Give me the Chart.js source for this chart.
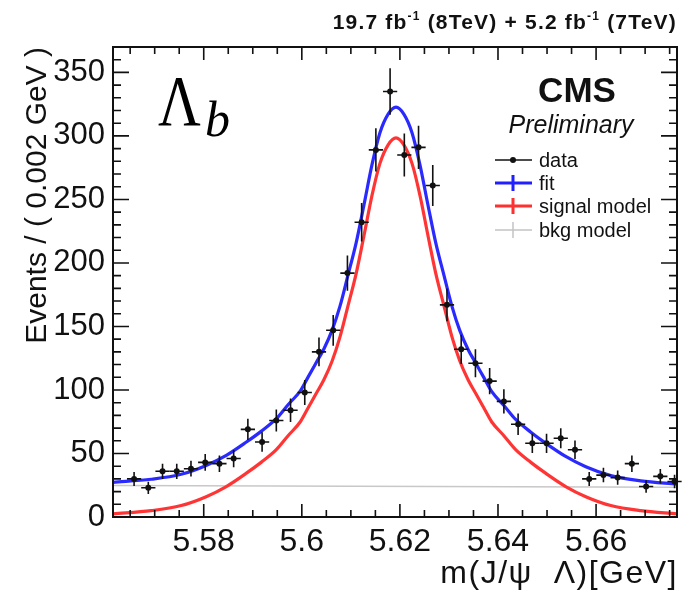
<!DOCTYPE html>
<html>
<head>
<meta charset="utf-8">
<script src="https://cdn.jsdelivr.net/npm/chart.js@4.4.1/dist/chart.umd.min.js"></script>
<style>
  html, body { margin: 0; padding: 0; background: #fff; }
  #wrap { width: 684px; height: 593px; }
</style>
</head>
<body>
<div id="wrap"><canvas id="c" width="684" height="593"></canvas></div>
<script>
// bin centres (GeV) and event counts
const massBins = [
  5.5658, 5.5687, 5.5716, 5.5745, 5.5774, 5.5803, 5.5832, 5.5861, 5.589, 5.5919,
  5.5948, 5.5977, 5.6006, 5.6035, 5.6064, 5.6093, 5.6122, 5.6151, 5.618, 5.6209,
  5.6238, 5.6267, 5.6296, 5.6325, 5.6354, 5.6383, 5.6412, 5.6441, 5.647, 5.6499,
  5.6528, 5.6557, 5.6586, 5.6615, 5.6644, 5.6673, 5.6702, 5.6731, 5.676
]
const eventCounts = [
  30, 23, 36, 36, 38, 43, 42, 46, 69, 59,
  76, 84, 98, 130, 147, 192, 232, 289, 335, 285,
  291, 261, 167, 132, 121, 107, 91, 73, 58, 58,
  62, 53, 30, 33, 31, 42, 24, 32, 28
]
const eventErrors = [
  5.5, 4.8, 6, 6, 6.2, 6.6, 6.5, 6.8, 8.3, 7.7,
  8.7, 9.2, 9.9, 11.4, 12.1, 13.9, 15.2, 17, 18.3, 16.9,
  17.1, 16.2, 12.9, 11.5, 11, 10.3, 9.5, 8.5, 7.6, 7.6,
  7.9, 7.3, 5.5, 5.7, 5.6, 6.5, 4.9, 5.7, 5.3
]
const halfBin = 0.00145

// fit curves sampled off the plot
const curveMass = [
  5.5615, 5.5693, 5.5754, 5.5805, 5.5846, 5.5887, 5.5917, 5.5948, 5.5972, 5.5997,
  5.6013, 5.6029, 5.6045, 5.6062, 5.6078, 5.6094, 5.6111, 5.6127, 5.6143, 5.6159,
  5.6176, 5.6192, 5.6208, 5.6225, 5.6241, 5.6257, 5.6273, 5.629, 5.6306, 5.6322,
  5.6339, 5.6355, 5.6371, 5.6387, 5.6412, 5.6436, 5.6467, 5.6497, 5.6538, 5.6579,
  5.663, 5.6691, 5.6765
]
const fitValues = [
  27.3, 29.7, 33.6, 40.6, 48.5, 59.0, 67.4, 77.4, 88.4, 99.3,
  110.3, 121.3, 132.3, 147.3, 166.2, 190.2, 216.2, 246.2, 277.2, 302.1,
  317.1, 322.6, 317.1, 302.1, 277.0, 246.0, 216.0, 190.0, 166.0, 146.9,
  131.9, 120.9, 109.9, 98.9, 87.8, 76.8, 66.8, 58.2, 47.7, 39.6,
  32.6, 28.5, 25.9
]
const signalValues = [
  2.5, 5, 9, 16, 24, 34.5, 43, 53, 64, 75,
  86, 97, 108, 123, 142, 166, 192, 222, 253, 278,
  293, 298.5, 293, 278, 253, 222, 192, 166, 142, 123,
  108, 97, 86, 75, 64, 53, 43, 34.5, 24, 16,
  9, 5, 2.5
]
const bkgMass = [5.5615, 5.6765]
const bkgValues = [24.8, 23.4]

const xMajorTicks = [5.58, 5.6, 5.62, 5.64, 5.66]
const xTickLabels = ['5.58', '5.6', '5.62', '5.64', '5.66']
const xMinorTicks = [
  5.565, 5.57, 5.575, 5.585, 5.59, 5.595, 5.605, 5.61, 5.615,
  5.625, 5.63, 5.635, 5.645, 5.65, 5.655, 5.665, 5.67, 5.675
]
const yMajorTicks = [0, 50, 100, 150, 200, 250, 300, 350]
const yMinorTicks = [
  10, 20, 30, 40, 60, 70, 80, 90, 110, 120, 130, 140, 160, 170, 180, 190,
  210, 220, 230, 240, 260, 270, 280, 290, 310, 320, 330, 340, 360
]

const legendItems = [
  { label: 'data', color: '#111', width: 1.5, dot: true },
  { label: 'fit', color: '#2020ff', width: 3 },
  { label: 'signal model', color: '#ff3030', width: 3 },
  { label: 'bkg model', color: '#c4c4c4', width: 1.5 },
]

const SANS = '"Liberation Sans", Arial, sans-serif'

const rootFrame = {
  id: 'rootFrame',
  afterDatasetsDraw(chart) {
    const { ctx, chartArea: a, scales: { x, y } } = chart
    ctx.save()

    // error bars
    ctx.strokeStyle = '#111'
    ctx.lineWidth = 1.6
    massBins.forEach((m, i) => {
      const px = x.getPixelForValue(m)
      const py = y.getPixelForValue(eventCounts[i])
      ctx.beginPath()
      ctx.moveTo(px, y.getPixelForValue(eventCounts[i] - eventErrors[i]))
      ctx.lineTo(px, y.getPixelForValue(eventCounts[i] + eventErrors[i]))
      ctx.moveTo(x.getPixelForValue(m - halfBin), py)
      ctx.lineTo(x.getPixelForValue(m + halfBin), py)
      ctx.stroke()
    })

    // frame + inward ticks on all sides
    ctx.strokeStyle = '#111'
    ctx.lineWidth = 2
    ctx.strokeRect(a.left, a.top, a.right - a.left, a.bottom - a.top)
    ctx.lineWidth = 1.6
    ctx.beginPath()
    const xt = (v, len) => {
      const px = x.getPixelForValue(v)
      ctx.moveTo(px, a.bottom); ctx.lineTo(px, a.bottom - len)
      ctx.moveTo(px, a.top); ctx.lineTo(px, a.top + len)
    }
    const yt = (v, len) => {
      const py = y.getPixelForValue(v)
      ctx.moveTo(a.left, py); ctx.lineTo(a.left + len, py)
      ctx.moveTo(a.right, py); ctx.lineTo(a.right - len, py)
    }
    xMajorTicks.forEach((v) => xt(v, 13))
    xMinorTicks.forEach((v) => xt(v, 7))
    yMajorTicks.forEach((v) => yt(v, 16))
    yMinorTicks.forEach((v) => yt(v, 8))
    ctx.stroke()
    ctx.restore()
  },
  afterDraw(chart) {
    const { ctx, chartArea: a } = chart
    ctx.save()
    ctx.fillStyle = '#111'

    // y title
    ctx.save()
    ctx.translate(46, a.top)
    ctx.rotate(-Math.PI / 2)
    ctx.font = `30px ${SANS}`
    ctx.textAlign = 'right'
    ctx.textBaseline = 'alphabetic'
    ctx.fillText('Events / ( 0.002 GeV )', 0, 0)
    ctx.restore()

    // x title
    ctx.font = `32px ${SANS}`
    ctx.letterSpacing = '1.5px'
    ctx.textAlign = 'right'
    ctx.textBaseline = 'alphabetic'
    ctx.fillText('m(J/\u03c8  \u039b)[GeV]', a.right + 1, 583)

    // lumi header with superscripts
    const parts = [
      ['19.7 fb', false], ['-1', true], [' (8TeV) + 5.2 fb', false], ['-1', true], [' (7TeV)', false],
    ]
    const big = `bold 21px ${SANS}`
    const small = `bold 12px ${SANS}`
    ctx.letterSpacing = '1.2px'
    let total = 0
    parts.forEach(([t, sup]) => { ctx.font = sup ? small : big; total += ctx.measureText(t).width })
    let cx = a.right - total
    ctx.textAlign = 'left'
    parts.forEach(([t, sup]) => {
      ctx.font = sup ? small : big
      ctx.fillText(t, cx, sup ? 20 : 29)
      cx += ctx.measureText(t).width
    })
    ctx.letterSpacing = '0px'

    // Lambda_b label
    ctx.save()
    ctx.translate(158, 125)
    ctx.scale(0.82, 1)
    ctx.font = `72px "Liberation Serif", "DejaVu Serif", serif`
    ctx.fillStyle = '#000'
    ctx.fillText('\u039b', 0, 0)
    ctx.restore()
    ctx.font = `italic 50px "Liberation Serif", "DejaVu Serif", serif`
    ctx.fillStyle = '#000'
    ctx.fillText('b', 205, 136)

    // CMS Preliminary
    ctx.fillStyle = '#111'
    ctx.textAlign = 'center'
    ctx.font = `bold 35px ${SANS}`
    ctx.fillText('CMS', 577, 102)
    ctx.font = `italic 25px ${SANS}`
    ctx.fillText('Preliminary', 571, 133)

    // legend
    ctx.textAlign = 'left'
    ctx.textBaseline = 'middle'
    ctx.font = `20px ${SANS}`
    const ys = [160, 183, 206, 230]
    legendItems.forEach((it, i) => {
      const ly = ys[i]
      ctx.strokeStyle = it.color
      ctx.lineWidth = it.width
      ctx.beginPath()
      ctx.moveTo(495, ly); ctx.lineTo(532, ly)
      if (!it.dot) { ctx.moveTo(513, ly - 8); ctx.lineTo(513, ly + 8) }
      ctx.stroke()
      if (it.dot) {
        ctx.fillStyle = it.color
        ctx.beginPath(); ctx.arc(513, ly, 3, 0, Math.PI * 2); ctx.fill()
      }
      ctx.fillStyle = '#111'
      ctx.fillText(it.label, 539, ly + 1)
    })
    ctx.restore()
  },
}

const toXY = (xs, ys) => xs.map((v, i) => ({ x: v, y: ys[i] }))

new Chart(document.getElementById('c'), {
  type: 'line',
  data: {
    datasets: [
      {
        label: 'data',
        data: toXY(massBins, eventCounts),
        showLine: false,
        pointRadius: 3,
        pointBackgroundColor: '#111',
        pointBorderWidth: 0,
        order: 0,
      },
      {
        label: 'fit',
        data: toXY(curveMass, fitValues),
        borderColor: '#2a2aff',
        borderWidth: 3.2,
        pointRadius: 0,
        cubicInterpolationMode: 'monotone',
        order: 1,
      },
      {
        label: 'signal model',
        data: toXY(curveMass, signalValues),
        borderColor: '#ff3535',
        borderWidth: 3.2,
        pointRadius: 0,
        cubicInterpolationMode: 'monotone',
        order: 2,
      },
      {
        label: 'bkg model',
        data: toXY(bkgMass, bkgValues),
        borderColor: '#c8c8c8',
        borderWidth: 1.5,
        pointRadius: 0,
        order: 3,
      },
    ],
  },
  options: {
    responsive: false,
    animation: false,
    devicePixelRatio: 1,
    layout: { padding: { top: 47, right: 7, left: 0, bottom: 0 } },
    plugins: { legend: { display: false }, tooltip: { enabled: false } },
    scales: {
      x: {
        type: 'linear',
        min: 5.5615,
        max: 5.6765,
        grid: { display: false },
        border: { display: false },
        afterBuildTicks: (s) => { s.ticks = xMajorTicks.map((v) => ({ value: v })) },
        afterFit: (s) => { s.height = 76 },
        ticks: {
          padding: -2,
          maxRotation: 0,
          color: '#111',
          font: { family: SANS, size: 32 },
          callback: (v, i) => xTickLabels[i],
        },
      },
      y: {
        min: 0,
        max: 370,
        grid: { display: false },
        border: { display: false },
        afterBuildTicks: (s) => { s.ticks = yMajorTicks.map((v) => ({ value: v })) },
        afterFit: (s) => { s.width = 113 },
        ticks: {
          padding: 0,
          color: '#111',
          font: { family: SANS, size: 31 },
        },
      },
    },
  },
  plugins: [rootFrame],
})
</script>
</body>
</html>
